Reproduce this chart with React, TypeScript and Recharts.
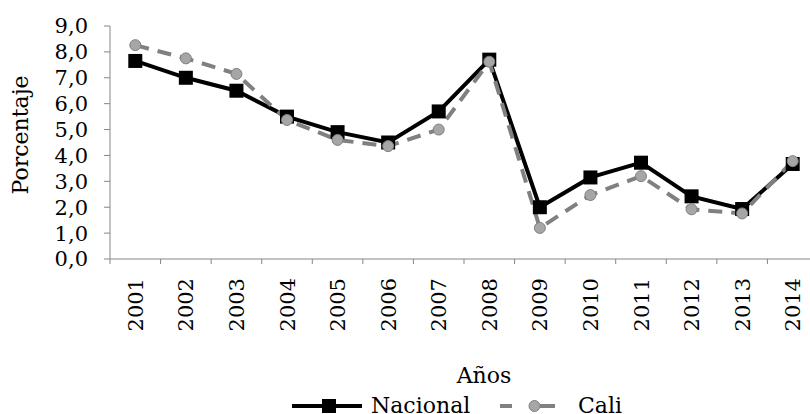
import React from 'react';
import { LineChart, Line, XAxis, YAxis, Legend } from 'recharts';

const years = ['2001', '2002', '2003', '2004', '2005', '2006', '2007', '2008', '2009', '2010', '2011', '2012', '2013', '2014'];
const nacional = [7.65, 7.0, 6.5, 5.5, 4.9, 4.5, 5.7, 7.7, 2.0, 3.15, 3.72, 2.42, 1.93, 3.67];
const cali = [8.26, 7.75, 7.15, 5.37, 4.6, 4.36, 5.0, 7.62, 1.2, 2.47, 3.2, 1.92, 1.76, 3.78];
const yTicks = [0, 1, 2, 3, 4, 5, 6, 7, 8, 9];
const seriesNames = ['Nacional', 'Cali'];
const yTitle = 'Porcentaje';
const xTitle = 'Años';

const data = years.map((year, i) => ({ pos: i + 0.5, year, nacional: nacional[i], cali: cali[i] }));
const boundaryTicks = [...years.map((_, i) => i), years.length];

const CHART_W = 830;
const MARGIN_RIGHT = 12;
const Y_AXIS_W = 110;
const BAND = (CHART_W - MARGIN_RIGHT - Y_AXIS_W) / years.length;

const FONT = '"DejaVu Serif", serif';
const AXIS = '#868686';
const GRAY = '#808080';

const fmt = (v: number) => v.toFixed(1).replace('.', ',');

const YearTick = (props: any) => {
  const { x, y, payload } = props;
  const idx = Math.round(payload.value);
  if (idx >= years.length) return <g />;
  const tx = x + BAND / 2;
  const ty = y + 14;
  return (
    <text x={tx} y={ty} transform={`rotate(-90 ${tx} ${ty})`} textAnchor="end" dy="0.36em" fill="#000" fontSize={21} fontFamily={FONT}>
      {years[idx]}
    </text>
  );
};

const SquareDot = (props: any) => {
  const { cx, cy } = props;
  if (cx == null || cy == null) return <g />;
  return <rect x={cx - 7} y={cy - 7} width={14} height={14} fill="#000" />;
};

const CircleDot = (props: any) => {
  const { cx, cy } = props;
  if (cx == null || cy == null) return <g />;
  return <circle cx={cx} cy={cy} r={5.5} fill="#A6A6A6" stroke={GRAY} strokeWidth={1} />;
};

const LegendContent = () => (
  <svg width={810} height={26} style={{ display: 'block', overflow: 'visible' }}>
    <line x1={292} y1={18} x2={362} y2={18} stroke="#000" strokeWidth={4} />
    <rect x={322} y={11} width={14} height={14} fill="#000" />
    <text x={371} y={25} fontSize={22} fontFamily={FONT} fill="#000">{seriesNames[0]}</text>
    <line x1={500} y1={18} x2={512} y2={18} stroke={GRAY} strokeWidth={4} />
    <line x1={540} y1={18} x2={555} y2={18} stroke={GRAY} strokeWidth={4} />
    <circle cx={534.5} cy={18} r={5.5} fill="#A6A6A6" stroke={GRAY} strokeWidth={1} />
    <text x={578} y={25} fontSize={22} fontFamily={FONT} fill="#000">{seriesNames[1]}</text>
  </svg>
);

export default function App() {
  return (
    <div style={{ position: 'absolute', left: 0, top: 0, width: 810, height: 414, overflow: 'hidden', background: '#fff' }}>
      <LineChart width={CHART_W} height={414} data={data} margin={{ top: 26, right: MARGIN_RIGHT, left: 0, bottom: 0 }}>
        <XAxis
          type="number"
          dataKey="pos"
          domain={[0, years.length]}
          ticks={boundaryTicks}
          tick={<YearTick />}
          tickSize={5}
          tickMargin={0}
          stroke={AXIS}
          height={155}
          interval={0}
          label={{
            content: () => (
              <text x={484} y={383} textAnchor="middle" fontSize={22} fontFamily={FONT} fill="#000">{xTitle}</text>
            ),
          }}
        />
        <YAxis
          type="number"
          domain={[0, 9]}
          ticks={yTicks}
          width={Y_AXIS_W}
          tickSize={6}
          tickMargin={16}
          stroke={AXIS}
          interval={0}
          tickFormatter={fmt}
          tick={{ fill: '#000', fontSize: 21, fontFamily: FONT }}
          label={{
            content: () => (
              <text x={27.5} y={135} transform="rotate(-90 27.5 135)" textAnchor="middle" fontSize={22} fontFamily={FONT} fill="#000">{yTitle}</text>
            ),
          }}
        />
        <Legend
          layout="horizontal"
          verticalAlign="middle"
          align="center"
          wrapperStyle={{ position: 'absolute', left: 0, top: 388, width: 810, height: 26 }}
          content={LegendContent}
        />
        <Line
          type="linear"
          dataKey="nacional"
          name={seriesNames[0]}
          stroke="#000"
          strokeWidth={4}
          dot={<SquareDot />}
          activeDot={false}
          isAnimationActive={false}
        />
        <Line
          type="linear"
          dataKey="cali"
          name={seriesNames[1]}
          stroke={GRAY}
          strokeWidth={4}
          strokeDasharray="14 9"
          dot={<CircleDot />}
          activeDot={false}
          isAnimationActive={false}
        />
      </LineChart>
    </div>
  );
}
